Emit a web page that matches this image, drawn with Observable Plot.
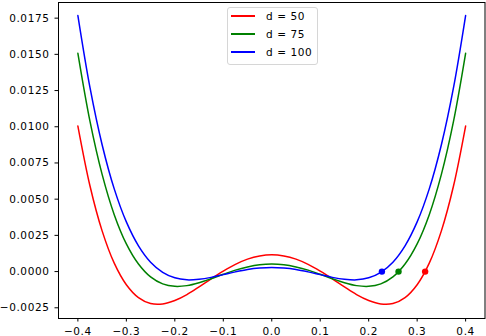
<!DOCTYPE html>
<html>
<head>
<meta charset="utf-8">
<script src="https://cdn.jsdelivr.net/npm/d3@7"></script>
<script src="https://cdn.jsdelivr.net/npm/@observablehq/plot@0.6"></script>
<style>
  html, body { margin: 0; padding: 0; background: white; }
  #wrap { position: relative; width: 486px; height: 336px; overflow: hidden; }
  #legend {
    position: absolute; left: 227px; top: 7px; width: 89px; height: 56px;
    border: 1px solid #d6d6d6; border-radius: 3px; background: rgba(255,255,255,0.8);
    font-family: "DejaVu Sans", sans-serif; font-size: 10.5px; letter-spacing: 0.6px; color: #000;
  }
  .row { position: absolute; left: 0; height: 16px; width: 100%; }
  .sw { position: absolute; left: 3px; top: 7px; width: 24px; height: 2px; }
  .lb { position: absolute; left: 38px; top: 1px; line-height: 14px; white-space: nowrap; }
  svg text { letter-spacing: 0.6px; }
</style>
</head>
<body>
<div id="wrap"></div>
<script>
// ---- data ----
const seriesNames = ["d = 50", "d = 75", "d = 100"];
const seriesColors = ["#ff0000", "#008000", "#0000ff"];

const xs = [-0.4, -0.375, -0.35, -0.325, -0.3, -0.275, -0.25, -0.225, -0.2, -0.175, -0.15, -0.125, -0.1, -0.075, -0.05, -0.025, 0,
            0.025, 0.05, 0.075, 0.1, 0.125, 0.15, 0.175, 0.2, 0.225, 0.25, 0.275, 0.3, 0.325, 0.35, 0.375, 0.4];

const red50 = [0.01005, 0.00591, 0.00281, 0.00058, -0.00091, -0.00180, -0.00221, -0.00224, -0.00200, -0.00159, -0.00106, -0.00050, 0.00003, 0.00050, 0.00086, 0.00108, 0.00116,
               0.00108, 0.00086, 0.00050, 0.00003, -0.00050, -0.00106, -0.00159, -0.00200, -0.00224, -0.00221, -0.00180, -0.00091, 0.00058, 0.00281, 0.00591, 0.01005];

const green75 = [0.01507, 0.01037, 0.00671, 0.00393, 0.00191, 0.00052, -0.00037, -0.00085, -0.00102, -0.00097, -0.00077, -0.00049, -0.00019, 0.00010, 0.00032, 0.00047, 0.00052,
                 0.00047, 0.00032, 0.00010, -0.00019, -0.00049, -0.00077, -0.00097, -0.00102, -0.00085, -0.00037, 0.00052, 0.00191, 0.00393, 0.00671, 0.01037, 0.01507];

const blue100 = [0.01768, 0.01270, 0.00876, 0.00571, 0.00343, 0.00178, 0.00065, -0.00005, -0.00043, -0.00057, -0.00053, -0.00040, -0.00021, -0.00002, 0.00014, 0.00024, 0.00028,
                 0.00024, 0.00014, -0.00002, -0.00021, -0.00040, -0.00053, -0.00057, -0.00043, -0.00005, 0.00065, 0.00178, 0.00343, 0.00571, 0.00876, 0.01270, 0.01768];

// marked roots (right side)
const rootX = [0.3165, 0.2616, 0.2273];
const rootY = [0, 0, 0];

const xTicks = [-0.4, -0.3, -0.2, -0.1, 0.0, 0.1, 0.2, 0.3, 0.4];
const yTicks = [-0.0025, 0.0, 0.0025, 0.005, 0.0075, 0.01, 0.0125, 0.015, 0.0175];

// ---- build tables ----
const allVals = [red50, green75, blue100];
const lineRows = [];
allVals.forEach((vals, i) => vals.forEach((v, j) => lineRows.push({x: xs[j], y: v, s: seriesNames[i]})));
const dotRows = rootX.map((x, i) => ({x, y: rootY[i], s: seriesNames[i]}));

const minus = v => v < 0 ? "\u2212" : "";
const fmtY = d => minus(d) + Math.abs(d).toFixed(4);
const fmtX = d => (Math.abs(d) < 1e-9 ? "0.0" : minus(d) + Math.abs(d).toFixed(1));

const chart = Plot.plot({
  width: 486,
  height: 336,
  marginLeft: 58,
  marginRight: 1.5,
  marginTop: 2,
  marginBottom: 18,
  style: {fontFamily: "DejaVu Sans, sans-serif", fontSize: "10.5px", color: "#000", background: "white"},
  x: {domain: [-0.44, 0.44]},
  y: {domain: [-0.00324, 0.01858]},
  color: {domain: seriesNames, range: seriesColors},
  marks: [
    Plot.axisY({ticks: yTicks, tickSize: 3.5, tickPadding: 5.5, tickFormat: fmtY, label: null}),
    Plot.axisX({ticks: xTicks, tickSize: 3.5, tickPadding: 5.5, tickFormat: fmtX, label: null}),
    Plot.line(lineRows, {x: "x", y: "y", z: "s", stroke: "s", strokeWidth: 1.5, curve: "catmull-rom"}),
    Plot.dot(dotRows, {x: "x", y: "y", fill: "s", r: 3.2}),
    Plot.frame({stroke: "black", strokeWidth: 1})
  ]
});

const wrap = document.getElementById("wrap");
wrap.appendChild(chart);

// legend
const legend = document.createElement("div");
legend.id = "legend";
const rowTops = [0, 18, 36];
seriesNames.forEach((name, i) => {
  const row = document.createElement("div");
  row.className = "row";
  row.style.top = rowTops[i] + "px";
  const sw = document.createElement("div");
  sw.className = "sw";
  sw.style.background = seriesColors[i];
  const lb = document.createElement("div");
  lb.className = "lb";
  lb.textContent = name;
  row.appendChild(sw);
  row.appendChild(lb);
  legend.appendChild(row);
});
wrap.appendChild(legend);
</script>
</body>
</html>
